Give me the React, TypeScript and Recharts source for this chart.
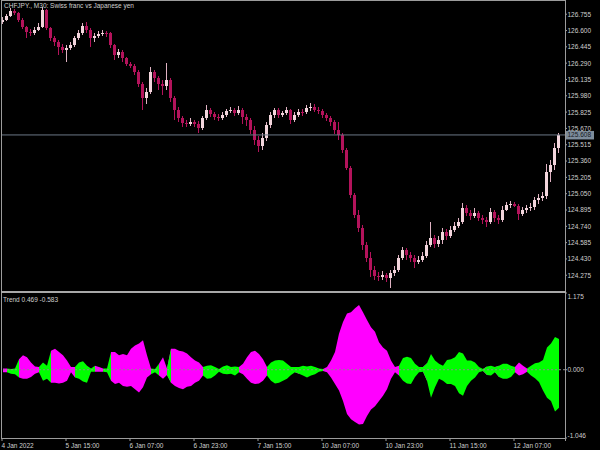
import React from 'react';
import { ComposedChart, Bar, Area, XAxis, YAxis, ReferenceLine } from 'recharts';

// ---------- data ----------
const symbolTitle = 'CHFJPY., M30:  Swiss franc vs Japanese yen';
const indicatorName = 'Trend';

const firstOpen = 126.681;
const closes = [
  126.700,126.738,126.785,126.766,126.700,126.633,126.586,126.576,126.605,126.633,
  126.795,126.624,126.529,126.491,126.444,126.415,126.434,126.463,126.529,126.576,
  126.643,126.605,126.529,126.548,126.567,126.576,126.574,126.463,126.367,126.396,
  126.339,126.282,126.263,126.206,126.092,125.959,126.016,126.206,126.149,126.092,
  126.073,126.130,125.959,125.845,125.769,125.722,125.712,125.731,125.712,125.674,
  125.769,125.845,125.807,125.778,125.769,125.797,125.835,125.845,125.816,125.845,
  125.778,125.750,125.655,125.560,125.503,125.579,125.703,125.797,125.845,125.797,
  125.816,125.845,125.750,125.797,125.826,125.824,125.864,125.874,125.845,125.835,
  125.797,125.769,125.731,125.655,125.607,125.465,125.294,125.038,124.848,124.724,
  124.563,124.439,124.325,124.268,124.259,124.277,124.249,124.297,124.325,124.439,
  124.515,124.468,124.439,124.401,124.420,124.458,124.563,124.629,124.572,124.610,
  124.686,124.648,124.705,124.743,124.781,124.914,124.867,124.838,124.867,124.819,
  124.800,124.781,124.876,124.819,124.800,124.895,124.943,124.952,124.933,124.857,
  124.895,124.914,124.924,124.990,125.009,125.028,125.256,125.323,125.484,125.608,
];
const highs = [
  126.728,126.757,126.814,126.804,126.776,126.719,126.643,126.614,126.633,126.671,
  126.823,126.804,126.633,126.548,126.510,126.472,126.463,126.491,126.548,126.605,
  126.671,126.681,126.624,126.576,126.595,126.605,126.595,126.586,126.472,126.424,
  126.415,126.348,126.301,126.282,126.225,126.111,126.054,126.254,126.225,126.168,
  126.130,126.292,126.149,125.978,125.874,125.788,125.750,125.769,125.750,125.740,
  125.788,125.893,125.864,125.826,125.807,125.826,125.854,125.874,125.864,125.883,
  125.864,125.807,125.769,125.693,125.598,125.626,125.731,125.826,125.864,125.864,
  125.835,125.874,125.854,125.826,125.854,125.854,125.893,125.912,125.902,125.874,
  125.854,125.816,125.788,125.750,125.731,125.626,125.484,125.313,125.057,124.895,
  124.753,124.591,124.496,124.363,124.306,124.316,124.297,124.325,124.363,124.468,
  124.544,124.534,124.496,124.468,124.458,124.496,124.601,124.781,124.658,124.648,
  124.724,124.714,124.743,124.781,124.819,124.962,124.943,124.895,124.914,124.886,
  124.848,124.829,124.914,124.895,124.848,124.933,124.971,124.981,124.971,124.952,
  124.924,124.943,124.962,125.019,125.047,125.066,125.332,125.370,125.532,125.626,
];
const lows = [
  126.662,126.690,126.728,126.747,126.681,126.614,126.529,126.548,126.557,126.595,
  126.624,126.605,126.500,126.453,126.367,126.386,126.301,126.415,126.444,126.510,
  126.557,126.576,126.444,126.491,126.529,126.548,126.538,126.434,126.320,126.339,
  126.301,126.263,126.244,126.178,126.064,125.845,125.902,125.997,126.111,126.035,
  125.988,126.035,125.921,125.750,125.731,125.684,125.684,125.693,125.684,125.626,
  125.655,125.750,125.778,125.750,125.740,125.750,125.778,125.816,125.788,125.797,
  125.712,125.693,125.617,125.512,125.446,125.465,125.550,125.674,125.769,125.769,
  125.778,125.797,125.712,125.731,125.778,125.788,125.807,125.835,125.826,125.807,
  125.769,125.740,125.693,125.617,125.560,125.436,125.275,125.009,124.819,124.686,
  124.515,124.401,124.259,124.230,124.221,124.230,124.211,124.154,124.268,124.306,
  124.420,124.420,124.401,124.344,124.382,124.401,124.439,124.544,124.534,124.544,
  124.572,124.610,124.629,124.686,124.724,124.762,124.838,124.800,124.819,124.791,
  124.762,124.734,124.762,124.781,124.762,124.781,124.886,124.914,124.924,124.800,
  124.838,124.867,124.886,124.895,124.952,124.981,125.000,125.161,125.275,125.436,
];

const trendUp = [
  0.02,0.02,0.01,0.02,0.16,0.22,0.19,0.11,0.05,0.04,
  0.11,0.06,0.29,0.32,0.27,0.22,0.14,0.04,0.04,0.11,
  0.13,0.06,0.02,0.06,0.04,0.02,0.02,0.27,0.27,0.22,
  0.24,0.22,0.32,0.37,0.40,0.45,0.22,0.02,0.01,0.09,
  0.19,0.02,0.32,0.32,0.29,0.28,0.25,0.19,0.14,0.11,
  0.04,0.06,0.07,0.04,0.01,0.05,0.07,0.04,0.05,0.04,
  0.09,0.19,0.27,0.29,0.24,0.16,0.04,0.11,0.14,0.15,
  0.14,0.09,0.04,0.04,0.04,0.06,0.05,0.06,0.04,0.02,
  0.01,0.04,0.14,0.27,0.55,0.73,0.86,0.88,0.94,0.99,
  0.88,0.76,0.65,0.58,0.42,0.34,0.29,0.14,0.04,0.06,
  0.18,0.20,0.18,0.09,0.04,0.04,0.10,0.24,0.14,0.09,
  0.06,0.15,0.16,0.19,0.27,0.25,0.14,0.14,0.11,0.04,
  0.01,0.05,0.06,0.04,0.06,0.09,0.09,0.06,0.04,0.11,
  0.06,0.02,0.06,0.10,0.11,0.15,0.34,0.40,0.50,0.469,
];
const trendDown = [
  -0.04,-0.04,-0.06,-0.07,-0.12,-0.14,-0.14,-0.11,-0.06,-0.04,
  -0.17,-0.14,-0.20,-0.20,-0.21,-0.20,-0.17,-0.04,-0.12,-0.14,
  -0.18,-0.20,-0.03,-0.03,-0.03,-0.03,-0.04,-0.17,-0.22,-0.20,
  -0.25,-0.26,-0.25,-0.30,-0.35,-0.27,-0.12,-0.07,-0.04,-0.09,
  -0.14,-0.08,-0.20,-0.25,-0.28,-0.30,-0.26,-0.25,-0.20,-0.17,
  -0.09,-0.14,-0.13,-0.09,-0.03,-0.06,-0.07,-0.06,-0.09,-0.04,
  -0.07,-0.14,-0.20,-0.22,-0.21,-0.17,-0.09,-0.17,-0.21,-0.20,
  -0.17,-0.14,-0.08,-0.04,-0.06,-0.09,-0.12,-0.09,-0.07,-0.03,
  -0.02,-0.04,-0.12,-0.22,-0.32,-0.48,-0.68,-0.76,-0.80,-0.84,
  -0.83,-0.71,-0.61,-0.56,-0.48,-0.40,-0.30,-0.14,-0.04,-0.09,
  -0.17,-0.21,-0.22,-0.11,-0.04,-0.03,-0.17,-0.43,-0.27,-0.14,
  -0.17,-0.22,-0.22,-0.25,-0.36,-0.40,-0.25,-0.17,-0.12,-0.04,
  -0.02,-0.08,-0.09,-0.04,-0.11,-0.14,-0.14,-0.11,-0.04,-0.09,
  -0.07,-0.03,-0.09,-0.13,-0.19,-0.32,-0.43,-0.48,-0.64,-0.583,
];
// m = magenta, g = green; run lengths along the bars
const trendColorRuns: [string, number][] = [
  ['m',1],['g',3],['m',5],['g',3],['m',6],['g',5],['m',2],['g',2],['m',10],['g',2],
  ['m',2],['g',1],['m',8],['g',9],['m',7],['g',7],['m',1],['g',6],['m',19],['g',6],
  ['m',1],['g',14],['m',1],['g',2],['m',1],['g',4],['m',3],['g',9],
];

const timeLabels = ['4 Jan 2022','5 Jan 15:00','6 Jan 07:00','6 Jan 23:00','7 Jan 15:00','10 Jan 07:00','10 Jan 23:00','11 Jan 15:00','12 Jan 07:00'];
const timeLabelIdx = [0,16,32,48,64,80,96,112,128];

const priceTicks = [126.755,126.600,126.445,126.290,126.135,125.980,125.825,125.670,125.515,125.360,125.205,125.050,124.895,124.740,124.585,124.430,124.275];
const priceDomain: [number, number] = [124.1255, 126.8805];
const trendTicks = [1.175, 0, -1.046];
const trendDomain: [number, number] = [-1.046, 1.175];

// ---------- styles ----------
const FONT = '"Liberation Sans", Arial, sans-serif';
const FS = 6.5;
const TXT = '#cfcfcf';
const AXIS = '#9c9c9c';
const BULL_BODY = '#f2d5dc';
const BULL_WICK = '#dfb2c2';
const BEAR = '#b3135b';
const MAGENTA = '#ff00ff';
const LIME = '#00ff00';
const PRICE_LINE = '#6c7886';
const PRICE_BOX = '#7d8c9b';

const lastClose = closes[closes.length - 1];

const priceData: any[] = closes.map((c, i) => ({
  i,
  open: i === 0 ? firstOpen : closes[i - 1],
  close: c,
  high: highs[i],
  low: lows[i],
}));
priceData.push({ i: closes.length, open: null, close: null, high: null, low: null });

const trendColors: string[] = trendColorRuns.flatMap(([c, n]) => Array(n).fill(c));
const trendData: any[] = trendUp.map((u, i) => {
  const range = [trendDown[i], u];
  const isM = trendColors[i] === 'm' || (i > 0 && trendColors[i - 1] === 'm');
  const isG = trendColors[i] === 'g' || (i > 0 && trendColors[i - 1] === 'g');
  return { i, mag: isM ? range : null, grn: isG ? range : null };
});
trendData.push({ i: trendUp.length, mag: null, grn: null });

// ---------- shapes ----------
function Candle(props: any) {
  const { x, y, height, payload } = props;
  if (!payload || payload.high == null || y == null) return <g />;
  const top = Math.min(y, y + height);
  const h = Math.abs(height);
  const { open, close, high, low } = payload;
  const py = (p: number) => top + ((high - p) / (high - low)) * h;
  const bull = close >= open;
  const bTop = py(Math.max(open, close));
  const bBot = py(Math.min(open, close));
  const bx = Math.round(x);
  return (
    <g shapeRendering="crispEdges">
      <rect x={bx + 1} y={top} width={1} height={Math.max(h, 1)} fill={bull ? BULL_WICK : BEAR} />
      <rect x={bx} y={bTop} width={3} height={Math.max(bBot - bTop, 1)} fill={bull ? BULL_BODY : BEAR} />
    </g>
  );
}

function PriceTick(props: any) {
  const { x, y, payload } = props;
  const v = payload.value;
  if (v === lastClose) {
    return (
      <g>
        <rect x={x + 1} y={y - 4} width={28} height={8.5} fill={PRICE_BOX} />
        <text x={x + 2.5} y={y + 2.4} fontSize={FS} fontFamily={FONT} fill="#15191e">{v.toFixed(3)}</text>
      </g>
    );
  }
  return (
    <g>
      <line x1={x} x2={x + 2} y1={y} y2={y} stroke={AXIS} />
      <text x={x + 2.5} y={y + 2.4} fontSize={FS} fontFamily={FONT} fill={TXT}>{v.toFixed(3)}</text>
    </g>
  );
}

function TrendTick(props: any) {
  const { x, y, payload } = props;
  const v = payload.value;
  const dy = v === trendTicks[0] ? 3.5 : v === trendTicks[2] ? -2.5 : 0;
  return (
    <g>
      <line x1={x} x2={x + 2} y1={y} y2={y} stroke={AXIS} />
      <text x={x + 2.5} y={y + 2.4 + dy} fontSize={FS} fontFamily={FONT} fill={TXT}>{v.toFixed(3)}</text>
    </g>
  );
}

function TimeTick(props: any) {
  const { x, y, payload } = props;
  const k = timeLabelIdx.indexOf(payload.value);
  if (k < 0) return <g />;
  return (
    <g>
      <line x1={x - 1} x2={x - 1} y1={y} y2={y + 3} stroke={AXIS} />
      <text x={x - 1.5} y={y + 9.5} fontSize={FS} fontFamily={FONT} fill={TXT}>{timeLabels[k]}</text>
    </g>
  );
}

export default function App() {
  return (
    <div style={{ position: 'absolute', left: 0, top: 0, width: 600, height: 450, background: '#000', overflow: 'hidden' }}>
      <div style={{ position: 'absolute', left: 0, top: 0 }}>
        <ComposedChart width={600} height={292} data={priceData}
          margin={{ top: 1, right: 0, bottom: 1, left: 1 }} barCategoryGap={0} barGap={0}>
          <XAxis dataKey="i" hide />
          <YAxis orientation="right" width={35} domain={priceDomain} ticks={[...priceTicks, lastClose]}
            interval={0} allowDataOverflow axisLine={false} tickLine={false} tickSize={0} tickMargin={0}
            tick={<PriceTick />} />
          <Bar dataKey={(d: any) => (d.high == null ? null : [d.low, d.high])} shape={<Candle />} isAnimationActive={false} />
          <ReferenceLine y={lastClose} stroke={PRICE_LINE} strokeWidth={1} />
        </ComposedChart>
      </div>
      <div style={{ position: 'absolute', left: 0, top: 292 }}>
        <ComposedChart width={600} height={158} data={trendData}
          margin={{ top: 1, right: 0, bottom: 0, left: 1 }}>
          <XAxis dataKey="i" scale="band" height={12} interval={0} axisLine={false} tickLine={false} tickSize={0} tickMargin={0}
            tick={<TimeTick />} />
          <YAxis orientation="right" width={35} domain={trendDomain} ticks={trendTicks} interval={0}
            allowDataOverflow axisLine={false} tickLine={false} tickSize={0} tickMargin={0} tick={<TrendTick />} />
          <Area dataKey="mag" type="linear" stroke="none" fill={MAGENTA} fillOpacity={1}
            connectNulls={false} dot={false} activeDot={false} isAnimationActive={false} />
          <Area dataKey="grn" type="linear" stroke="none" fill={LIME} fillOpacity={1}
            connectNulls={false} dot={false} activeDot={false} isAnimationActive={false} />
          <ReferenceLine y={0} stroke="#8a8a8a" strokeDasharray="2 2" />
        </ComposedChart>
      </div>
      <svg width={600} height={450} style={{ position: 'absolute', left: 0, top: 0, pointerEvents: 'none' }}>
        <g shapeRendering="crispEdges" fill={AXIS}>
          <rect x={1} y={0} width={565} height={1} />
          <rect x={1} y={0} width={1} height={439} />
          <rect x={565} y={0} width={1} height={441} />
          <rect x={1} y={291} width={565} height={2} fill="#a8a8a8" />
          <rect x={1} y={438} width={565} height={1} />
        </g>
        <text x={4} y={8} fontSize={FS} fontFamily={FONT} fill={TXT}>{symbolTitle}</text>
        <text x={3} y={301.5} fontSize={FS} fontFamily={FONT} fill={TXT}>
          {`${indicatorName} ${trendUp[trendUp.length - 1].toFixed(3)} ${trendDown[trendDown.length - 1].toFixed(3)}`}
        </text>
      </svg>
    </div>
  );
}
